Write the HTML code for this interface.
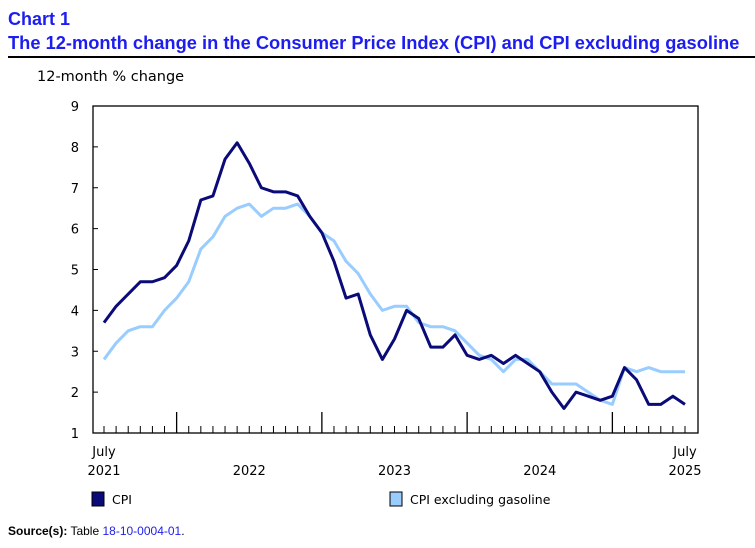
<!DOCTYPE html>
<html><head><meta charset="utf-8"><style>
body{margin:0;width:755px;height:543px;background:#fff;font-family:"Liberation Sans",sans-serif;overflow:hidden}
.v{font-family:"DejaVu Sans",sans-serif}
</style></head><body>
<svg width="755" height="543" id="svg">
<text x="8" y="25" font-size="18" font-weight="bold" fill="#1d1df0">Chart 1</text>
<text x="8" y="49" font-size="18.3" font-weight="bold" fill="#1d1df0">The 12-month change in the Consumer Price Index (CPI) and CPI excluding gasoline</text>
<line x1="8" y1="57" x2="755" y2="57" stroke="#000" stroke-width="2"/>
<text class="v" x="37" y="81" font-size="14.5" fill="#000">12-month % change</text>
<rect x="93" y="106" width="605" height="327" fill="none" stroke="#000" stroke-width="1.3"/>
<g id="yt" class="v"></g><g id="xt" class="v"></g><g id="lines"></g>
<rect x="92" y="492" width="12" height="14" fill="#0a0a78" stroke="#000"/>
<text class="v" x="112" y="504" font-size="12.5">CPI</text>
<rect x="390" y="492" width="12" height="14" fill="#99ccff" stroke="#000"/>
<text class="v" x="410" y="504" font-size="12.5">CPI excluding gasoline</text>
<text x="8" y="535" font-size="12"><tspan font-weight="bold">Source(s):</tspan> Table <tspan fill="#1d1df0">18-10-0004-01</tspan>.</text>
</svg>
<script>
const months = 49;
const cpi = [3.7,4.1,4.4,4.7,4.7,4.8,5.1,5.7,6.7,6.8,7.7,8.1,7.6,7.0,6.9,6.9,6.8,6.3,5.9,5.2,4.3,4.4,3.4,2.8,3.3,4.0,3.8,3.1,3.1,3.4,2.9,2.8,2.9,2.7,2.9,2.7,2.5,2.0,1.6,2.0,1.9,1.8,1.9,2.6,2.3,1.7,1.7,1.9,1.7];
const cpiExGas = [2.8,3.2,3.5,3.6,3.6,4.0,4.3,4.7,5.5,5.8,6.3,6.5,6.6,6.3,6.5,6.5,6.6,6.3,5.9,5.7,5.2,4.9,4.4,4.0,4.1,4.1,3.7,3.6,3.6,3.5,3.2,2.9,2.8,2.5,2.8,2.8,2.5,2.2,2.2,2.2,2.0,1.8,1.7,2.6,2.5,2.6,2.5,2.5,2.5];
const yTicks = [1,2,3,4,5,6,7,8,9];
const xLabels = [[0,"July","2021"],[12,"","2022"],[24,"","2023"],[36,"","2024"],[48,"July","2025"]];
const majorTicks = [6,18,30,42];
const NS="http://www.w3.org/2000/svg";
const X=i=>104+i*(581/48);
const Y=v=>433-(v-1)*(327/8);
function mk(tag,attrs,parent,txt){const e=document.createElementNS(NS,tag);for(const k in attrs)e.setAttribute(k,attrs[k]);if(txt!==undefined)e.textContent=txt;document.getElementById(parent).appendChild(e);return e;}
yTicks.forEach(v=>{
 const t=mk('line',{x1:93,x2:98,y1:Y(v),y2:Y(v),stroke:'#000'},'yt');
 
 
 const l=mk('text',{x:79,y:Y(v)+5,'font-size':13,'text-anchor':'end'},'yt',v);
 
 
});
for(let i=0;i<months;i++){
 const major=majorTicks.includes(i);
 const t=mk('line',{x1:X(i),x2:X(i),y1:433,y2:major?412:426,stroke:'#000','stroke-width':major?1.3:1},'xt');
 
 
}
xLabels.forEach(([i,m,y])=>{
 if(m){const a=mk('text',{x:X(i),y:456,'font-size':13,'text-anchor':'middle'},'xt',m);
 
 }
 const b=mk('text',{x:X(i),y:475,'font-size':13,'text-anchor':'middle'},'xt',y);
 
 
});
function line(arr,col,name){
 const p=mk('polyline',{points:arr.map((v,i)=>X(i)+','+Y(v)).join(' '),fill:'none',stroke:col,'stroke-width':3,'stroke-linejoin':'round'},'lines');
 
 
}
line(cpiExGas,'#99ccff','line-cpi-ex-gasoline');
line(cpi,'#0a0a78','line-cpi');
</script>
</body></html>
